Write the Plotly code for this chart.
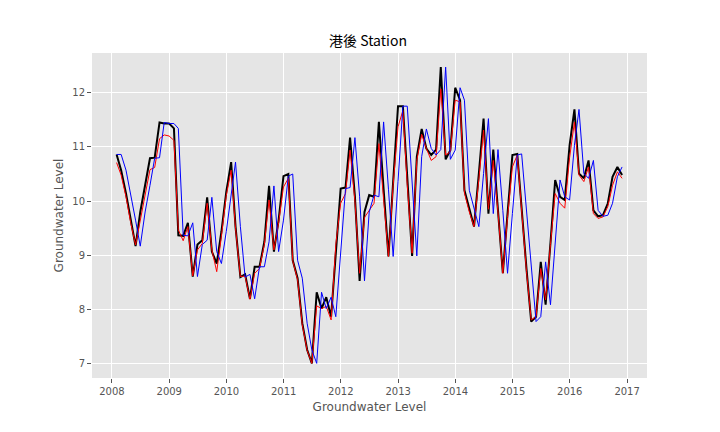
import pandas as pd
import plotly.graph_objects as go

# monthly observations, Jan 2008 .. Nov 2016 (month-end)
months = pd.date_range("2008-01-31", periods=107, freq="ME")

observed = [
    10.86, 10.57, 10.14, 9.65, 9.17, 9.80, 10.29, 10.79, 10.80, 11.45,
    11.43, 11.43, 11.34, 9.37, 9.36, 9.60, 8.61, 9.20, 9.28, 10.07,
    9.07, 8.85, 9.44, 10.17, 10.72, 9.53, 8.60, 8.65, 8.20, 8.79,
    8.79, 9.25, 10.28, 9.07, 9.65, 10.46, 10.50, 8.91, 8.58, 7.75,
    7.26, 7.01, 8.32, 8.02, 8.23, 7.87, 9.04, 10.23, 10.25, 11.17,
    10.08, 8.53, 9.80, 10.11, 10.08, 11.46, 10.22, 8.98, 10.36, 11.75,
    11.75, 10.39, 8.99, 10.82, 11.33, 10.97, 10.85, 10.95, 12.47, 10.77,
    10.94, 12.09, 11.86, 10.20, 9.87, 9.53, 10.51, 11.52, 9.77, 10.95,
    9.83, 8.67, 9.77, 10.85, 10.87, 9.78, 8.75, 7.78, 7.87, 8.88,
    8.09, 9.23, 10.39, 10.08, 10.02, 11.03, 11.69, 10.51, 10.42, 10.75,
    9.83, 9.72, 9.74, 9.96, 10.45, 10.63, 10.48,
]

predicted = [
    10.71, 10.48, 10.08, 9.60, 9.19, 9.65, 10.10, 10.58, 10.62, 11.15,
    11.22, 11.20, 11.12, 9.47, 9.27, 9.53, 8.62, 9.10, 9.22, 9.96,
    9.10, 8.70, 9.35, 10.10, 10.57, 9.50, 8.61, 8.62, 8.19, 8.67,
    8.76, 9.20, 10.02, 9.10, 9.60, 10.26, 10.42, 8.90, 8.55, 7.72,
    7.25, 7.01, 8.07, 8.02, 8.06, 7.81, 9.20, 9.96, 10.14, 10.94,
    10.00, 8.67, 9.70, 9.83, 9.96, 11.06, 10.10, 8.98, 10.30, 11.37,
    11.67, 10.30, 9.04, 10.75, 11.23, 10.97, 10.75, 10.82, 12.07, 10.85,
    10.91, 11.86, 11.83, 10.15, 9.80, 9.53, 10.40, 11.31, 9.85, 10.75,
    9.80, 8.67, 9.70, 10.63, 10.85, 9.75, 8.70, 7.81, 7.87, 8.76,
    8.18, 9.20, 10.14, 9.96, 9.87, 10.80, 11.46, 10.48, 10.36, 10.63,
    9.77, 9.68, 9.71, 9.90, 10.29, 10.54, 10.42,
]

# naive (previous month) estimate
persistence = [
    10.86, 10.86, 10.57, 10.14, 9.65, 9.17, 9.80, 10.29, 10.79, 10.80,
    11.45, 11.43, 11.43, 11.34, 9.37, 9.36, 9.60, 8.61, 9.20, 9.28,
    10.07, 9.07, 8.85, 9.44, 10.17, 10.72, 9.53, 8.60, 8.65, 8.20,
    8.79, 8.79, 9.25, 10.28, 9.07, 9.65, 10.46, 10.50, 8.91, 8.58,
    7.75, 7.26, 7.01, 8.32, 8.02, 8.23, 7.87, 9.04, 10.23, 10.25,
    11.17, 10.08, 8.53, 9.80, 10.11, 10.08, 11.46, 10.22, 8.98, 10.36,
    11.75, 11.75, 10.39, 8.99, 10.82, 11.33, 10.97, 10.85, 10.95, 12.47,
    10.77, 10.94, 12.09, 11.86, 10.20, 9.87, 9.53, 10.51, 11.52, 9.77,
    10.95, 9.83, 8.67, 9.77, 10.85, 10.87, 9.78, 8.75, 7.78, 7.87,
    8.88, 8.09, 9.23, 10.39, 10.08, 10.02, 11.03, 11.69, 10.51, 10.42,
    10.75, 9.83, 9.72, 9.74, 9.96, 10.45, 10.63,
]

fig = go.Figure()
fig.add_trace(go.Scatter(x=months, y=observed, mode="lines",
                         line=dict(color="black", width=2), name="observed"))
fig.add_trace(go.Scatter(x=months, y=predicted, mode="lines",
                         line=dict(color="red", width=1), name="predicted"))
fig.add_trace(go.Scatter(x=months, y=persistence, mode="lines",
                         line=dict(color="blue", width=1), name="previous"))

axis_style = dict(
    showgrid=True, gridcolor="white", gridwidth=1.2,
    zeroline=False, showline=False, automargin=False,
    ticks="outside", ticklen=4, tickcolor="#555555",
    tickfont=dict(family="DejaVu Sans", size=10, color="#555555"),
)

# page body adds ~8px offset, margins compensate for it
fig.update_layout(
    width=720, height=432,
    margin=dict(l=84, r=81, t=45, b=62),
    paper_bgcolor="white",
    plot_bgcolor="#E5E5E5",
    showlegend=False,
    title=dict(text="港後 Station", x=0.5, xanchor="center", y=0.923, yanchor="middle",
               font=dict(family="Noto Sans CJK TC, DejaVu Sans", size=14, color="black")),
    xaxis=dict(axis_style, range=["2007-08-27", "2017-05-08"],
               dtick="M12", tickformat="%Y",
               title=dict(text="Groundwater Level", standoff=6,
                          font=dict(family="DejaVu Sans", size=12, color="#555555"))),
    yaxis=dict(axis_style, range=[6.74, 12.73], dtick=1,
               title=dict(text="Groundwater Level", standoff=6,
                          font=dict(family="DejaVu Sans", size=12, color="#555555"))),
)

fig.write_html("out.html")
